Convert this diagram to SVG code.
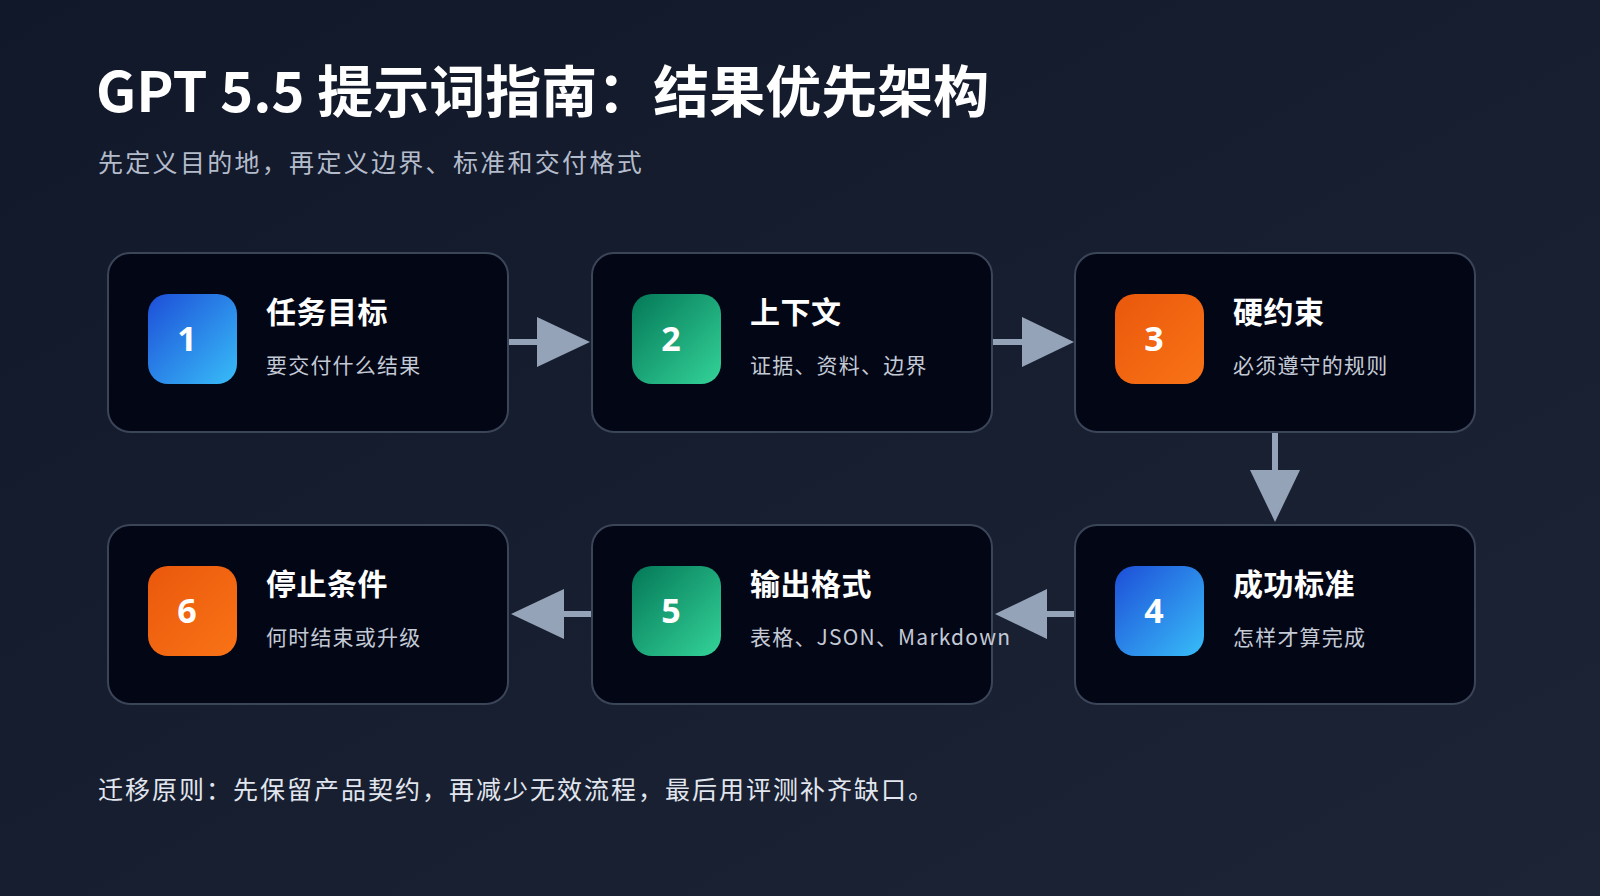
<svg xmlns="http://www.w3.org/2000/svg" width="1600" height="896" viewBox="0 0 1600 896">
<defs>
<linearGradient id="bg" x1="0" y1="0" x2="1" y2="1"><stop offset="0" stop-color="#111829"/><stop offset="1" stop-color="#1c2436"/></linearGradient>
<linearGradient id="gb" x1="0" y1="0" x2="1" y2="1"><stop offset="0" stop-color="#1d4ed8"/><stop offset="1" stop-color="#38bdf8"/></linearGradient>
<linearGradient id="gg" x1="0" y1="0" x2="1" y2="1"><stop offset="0" stop-color="#047857"/><stop offset="1" stop-color="#34d399"/></linearGradient>
<linearGradient id="go" x1="0" y1="0" x2="1" y2="1"><stop offset="0" stop-color="#ea580c"/><stop offset="1" stop-color="#f97316"/></linearGradient>
<style>
.card{fill:#030615;stroke:#3b4558;stroke-width:2}
.t{font-family:"Noto Sans CJK SC","Noto Sans",sans-serif;font-weight:700;font-size:30px;fill:#fff;letter-spacing:0.5px}
.s{font-family:"Noto Sans CJK SC","Noto Sans",sans-serif;font-size:21px;fill:#c3cad6;letter-spacing:1.2px}
.n{font-family:"Noto Sans","Noto Sans CJK SC",sans-serif;font-weight:700;font-size:34px;fill:#fff;text-anchor:middle}
.ln{stroke:#94a3b8;stroke-width:6;fill:none}
.ah{fill:#94a3b8}
</style>
</defs>
<rect width="1600" height="896" fill="url(#bg)"/>
<text x="96" y="112" font-family="Noto Sans CJK SC,Noto Sans,sans-serif" font-weight="700" font-size="56" fill="#fff">GPT 5.5 提示词指南：结果优先架构</text>
<text x="98" y="172" font-family="Noto Sans CJK SC,Noto Sans,sans-serif" font-size="25" fill="#b4bccb" letter-spacing="2.3">先定义目的地，再定义边界、标准和交付格式</text>
<g id="connectors">
<line class="ln" x1="508" y1="342" x2="545" y2="342"/><polygon class="ah" points="537,317 590,342 537,367"/>
<line class="ln" x1="992" y1="342" x2="1030" y2="342"/><polygon class="ah" points="1022,317 1074,342 1022,367"/>
<line class="ln" x1="1275" y1="432" x2="1275" y2="478"/><polygon class="ah" points="1250,470 1300,470 1275,522"/>
<line class="ln" x1="1075" y1="614" x2="1040" y2="614"/><polygon class="ah" points="1047,589 1047,639 995,614"/>
<line class="ln" x1="592" y1="614" x2="558" y2="614"/><polygon class="ah" points="564,589 564,639 511,614"/>
</g>
<g id="n1"><rect class="card" x="108" y="253" width="400" height="179" rx="22"/><rect x="148" y="294" width="89" height="90" rx="20" fill="url(#gb)"/><text class="n" x="187" y="351">1</text><text class="t" x="266" y="323">任务目标</text><text class="s" x="266" y="373">要交付什么结果</text></g>
<g id="n2"><rect class="card" x="592" y="253" width="400" height="179" rx="22"/><rect x="632" y="294" width="89" height="90" rx="20" fill="url(#gg)"/><text class="n" x="671" y="351">2</text><text class="t" x="750" y="323">上下文</text><text class="s" x="750" y="373">证据、资料、边界</text></g>
<g id="n3"><rect class="card" x="1075" y="253" width="400" height="179" rx="22"/><rect x="1115" y="294" width="89" height="90" rx="20" fill="url(#go)"/><text class="n" x="1154" y="351">3</text><text class="t" x="1233" y="323">硬约束</text><text class="s" x="1233" y="373">必须遵守的规则</text></g>
<g id="n4"><rect class="card" x="1075" y="525" width="400" height="179" rx="22"/><rect x="1115" y="566" width="89" height="90" rx="20" fill="url(#gb)"/><text class="n" x="1154" y="623">4</text><text class="t" x="1233" y="595">成功标准</text><text class="s" x="1233" y="645">怎样才算完成</text></g>
<g id="n5"><rect class="card" x="592" y="525" width="400" height="179" rx="22"/><rect x="632" y="566" width="89" height="90" rx="20" fill="url(#gg)"/><text class="n" x="671" y="623">5</text><text class="t" x="750" y="595">输出格式</text><text class="s" x="750" y="645">表格、JSON、Markdown</text></g>
<g id="n6"><rect class="card" x="108" y="525" width="400" height="179" rx="22"/><rect x="148" y="566" width="89" height="90" rx="20" fill="url(#go)"/><text class="n" x="187" y="623">6</text><text class="t" x="266" y="595">停止条件</text><text class="s" x="266" y="645">何时结束或升级</text></g>
<text x="98" y="799" font-family="Noto Sans CJK SC,Noto Sans,sans-serif" font-size="25" fill="#e2e6ee" letter-spacing="2">迁移原则：先保留产品契约，再减少无效流程，最后用评测补齐缺口。</text>
</svg>
